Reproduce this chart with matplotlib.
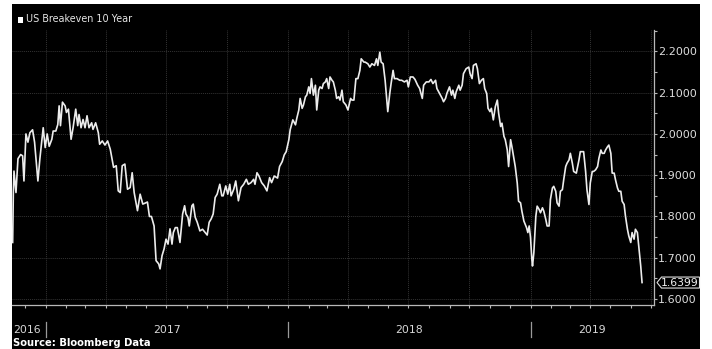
import numpy as np
import matplotlib
matplotlib.use("Agg")
import matplotlib.pyplot as plt
import matplotlib.dates as mdates
import matplotlib.ticker as mticker
import matplotlib.transforms as mtransforms
from matplotlib.patches import Rectangle, Polygon

# US 10y breakeven
# day_offsets: days counted from 2017-01-01
day_offsets = [
    -50, -49, -48, -45, -42, -38, -35, -33, -30, -27, -24, -20, -17, -12, -9, -4, -1,
    2, 5, 9, 11, 15, 18, 20, 22, 25, 29, 31, 34, 38, 41, 45, 48, 50, 53, 56, 59, 62,
    65, 69, 71, 75, 79, 81, 85, 89, 93, 97, 102, 106, 109, 112, 115, 119, 123, 127,
    130, 133, 138, 142, 146, 149,
    153, 156, 159, 163, 166, 170, 172, 175, 178, 181, 184, 187, 190, 192, 195, 198,
    202, 206, 209, 211, 214, 216, 220, 222, 225, 228, 232, 236, 240, 243, 246, 249,
    252, 255, 258, 262, 265, 267, 271, 274, 277, 279, 283, 286, 290, 294, 298, 302,
    305, 309, 313, 315, 318, 321, 325, 329, 333, 337, 340, 344,
    349, 352, 356, 359, 362, 366, 368, 372, 376, 378, 381, 383, 386, 388, 391, 393,
    396, 398, 400, 403, 406, 408, 411, 413, 416, 418, 421, 423, 426, 428, 431, 433,
    436, 438, 441, 443, 446, 448, 452, 455, 459, 461, 464, 467, 470, 473, 475, 479,
    481, 485, 488, 491, 495, 498, 500, 503, 505, 508, 511, 515, 518, 520, 523, 525,
    529, 533, 536, 540,
    544, 546, 549, 553, 556, 560, 563, 567, 569, 573, 577, 580, 583, 587, 589, 593,
    597, 599, 602, 604, 608, 611, 613, 616, 618, 622, 624, 627, 629, 633, 637, 639,
    642, 644, 648, 650, 653, 656, 659, 661, 664, 666, 669, 671, 674, 677, 680, 682,
    685, 687, 690, 692, 695, 697, 700, 702, 705, 707, 710, 712, 715, 717, 720, 724,
    726, 728, 730, 732, 733, 735, 738,
    740, 743, 745, 748, 750, 753, 755, 758, 760, 763, 765, 768, 770, 773, 775, 778,
    780, 783, 785, 788, 790, 793, 795, 799, 803, 805, 808, 810, 813, 815, 818, 820,
    823, 825, 828, 831, 833, 836, 838, 841, 843, 846, 848, 851, 853, 856, 858, 861,
    863, 866, 868, 871, 873, 876, 878, 881, 883, 886, 888, 891, 893, 896, 898,
]
breakeven = [
    1.737, 1.858, 1.910, 1.858, 1.940, 1.950, 1.947, 1.886, 2.000, 1.980, 2.003, 2.010,
    1.980, 1.886, 1.940, 2.015, 1.967,
    2.000, 1.970, 1.987, 2.007, 2.007, 2.023, 2.068, 2.020, 2.077, 2.068, 2.052, 2.060,
    1.987, 2.015, 2.060, 2.020, 2.047, 2.015, 2.035, 2.015, 2.044, 2.015, 2.027, 2.011,
    2.027, 2.003, 1.975, 1.983, 1.973, 1.983, 1.963, 1.919, 1.923, 1.862, 1.858, 1.923,
    1.927, 1.866, 1.870, 1.906, 1.858, 1.814, 1.854, 1.830, 1.832,
    1.835, 1.800, 1.800, 1.777, 1.693, 1.685, 1.673, 1.705, 1.721, 1.745, 1.733, 1.770,
    1.733, 1.761, 1.773, 1.773, 1.737, 1.806, 1.826, 1.806, 1.798, 1.777, 1.826, 1.830,
    1.798, 1.786, 1.765, 1.769, 1.761, 1.755, 1.786, 1.794, 1.806, 1.846, 1.854, 1.878,
    1.850, 1.850, 1.874, 1.854, 1.878, 1.850, 1.866, 1.886, 1.838, 1.870, 1.878, 1.890,
    1.878, 1.882, 1.890, 1.878, 1.906, 1.898, 1.882, 1.874, 1.862, 1.894, 1.882, 1.898,
    1.893, 1.921, 1.933, 1.949, 1.957, 1.986, 2.010, 2.034, 2.022, 2.038, 2.058, 2.086,
    2.062, 2.070, 2.090, 2.094, 2.114, 2.098, 2.134, 2.094, 2.118, 2.058, 2.106, 2.114,
    2.110, 2.122, 2.126, 2.134, 2.110, 2.138, 2.130, 2.126, 2.106, 2.086, 2.090, 2.082,
    2.106, 2.078, 2.070, 2.058, 2.086, 2.082, 2.082, 2.134, 2.134, 2.154, 2.182, 2.174,
    2.174, 2.170, 2.162, 2.170, 2.166, 2.182, 2.166, 2.198, 2.174, 2.170, 2.130, 2.054,
    2.098, 2.122, 2.154, 2.134, 2.134, 2.130, 2.130, 2.126,
    2.130, 2.114, 2.138, 2.138, 2.132, 2.118, 2.110, 2.086, 2.118, 2.126, 2.126, 2.132,
    2.122, 2.130, 2.110, 2.098, 2.086, 2.078, 2.086, 2.098, 2.114, 2.094, 2.106, 2.086,
    2.102, 2.118, 2.106, 2.118, 2.146, 2.158, 2.162, 2.146, 2.134, 2.166, 2.170, 2.158,
    2.122, 2.130, 2.134, 2.110, 2.098, 2.062, 2.054, 2.062, 2.034, 2.066, 2.082, 2.050,
    2.018, 2.026, 1.994, 1.986, 1.961, 1.921, 1.986, 1.969, 1.941, 1.921, 1.881, 1.837,
    1.833, 1.813, 1.789, 1.773, 1.761, 1.777, 1.749, 1.696, 1.680, 1.712, 1.800,
    1.825, 1.817, 1.809, 1.821, 1.813, 1.793, 1.777, 1.777, 1.841, 1.869, 1.873, 1.861,
    1.833, 1.825, 1.861, 1.865, 1.889, 1.921, 1.929, 1.937, 1.953, 1.929, 1.909, 1.905,
    1.937, 1.957, 1.957, 1.957, 1.909, 1.865, 1.829, 1.881, 1.909, 1.909, 1.913, 1.921,
    1.941, 1.961, 1.953, 1.953, 1.961, 1.969, 1.973, 1.953, 1.905, 1.905, 1.889, 1.869,
    1.861, 1.861, 1.837, 1.829, 1.801, 1.769, 1.753, 1.737, 1.761, 1.745, 1.769, 1.761,
    1.729, 1.680, 1.6399,
]
year_labels = ["2016", "2017", "2018", "2019"]
y_ticks = [1.6, 1.7, 1.8, 1.9, 2.0, 2.1, 2.2]
series_name = "US Breakeven 10 Year"
source = "Source: Bloomberg Data"

dates = np.datetime64("2017-01-01") + np.array(day_offsets).astype("timedelta64[D]")
x_start = np.datetime64("2016-11-11")
x_end = np.datetime64("2019-07-06")
year_starts = [np.datetime64(f"{y}-01-01") for y in year_labels[1:]]

W, H = 712, 349
fig = plt.figure(figsize=(W / 100, H / 100), dpi=100, facecolor="white")
fig.add_artist(Rectangle((12 / W, 0), 688 / W, 345 / H, transform=fig.transFigure,
                         facecolor="black", edgecolor="none", zorder=-10))

ax = fig.add_axes([12 / W, 44 / H, 642 / W, 275.5 / H])
ax.set_facecolor("black")
ax.plot(dates, breakeven, color="#ececec", lw=1.2, solid_joinstyle="round")

ax.set_xlim(x_start, x_end)
ax.set_ylim(1.5855, 2.253)

# axes styling
for side in ("top", "left"):
    ax.spines[side].set_visible(False)
for side in ("bottom", "right"):
    ax.spines[side].set_color("#b8b8b8")
    ax.spines[side].set_linewidth(0.9)

ax.yaxis.tick_right()
ax.set_yticks(y_ticks)
ax.yaxis.set_minor_locator(mticker.MultipleLocator(0.05))
ax.yaxis.set_major_formatter(mticker.FormatStrFormatter("%.4f"))
ax.tick_params(axis="y", which="major", colors="#b8b8b8", labelcolor="#dcdcdc",
               length=2.5, width=0.8, pad=0.5, labelsize=8)
ax.tick_params(axis="y", which="minor", colors="#b8b8b8", length=2, width=0.8)

ax.xaxis.set_major_locator(mdates.MonthLocator(bymonth=[1, 4, 7, 10]))
ax.xaxis.set_minor_locator(mdates.MonthLocator())
ax.tick_params(axis="x", which="both", colors="#b8b8b8", length=2, width=0.8,
               labelbottom=False)

ax.grid(True, which="major", color="#333333", linestyle=(0, (1, 1)), linewidth=0.7)

# year labels and separators below the axis
xform = mtransforms.blended_transform_factory(ax.transData, ax.transAxes)
bounds = [x_start] + year_starts + [x_end]
for i, label in enumerate(year_labels):
    a, b = mdates.date2num(bounds[i]), mdates.date2num(bounds[i + 1])
    mid = (a + b) / 2
    if i == 0:
        mid -= 3
    ax.text(mid, -0.092, label, transform=xform, ha="center", va="center",
            color="#d8d8d8", fontsize=7.8)
for ys in year_starts:
    ax.plot([ys, ys], [-0.06, -0.115], transform=xform, color="#9a9a9a",
            lw=0.9, clip_on=False)

# last value tag
last = breakeven[-1]
tag_tr = mtransforms.Affine2D() + mtransforms.ScaledTranslation(1.0, last, ax.get_yaxis_transform())
tag = Polygon([(3, 0), (7.5, 5.5), (45.5, 5.5), (45.5, -5.5), (7.5, -5.5)], closed=True,
              facecolor="black", edgecolor="#e0e0e0", lw=0.8, transform=tag_tr,
              clip_on=False, zorder=5)
ax.add_artist(tag)
ax.annotate(f"{last:.4f}", xy=(1.0, last), xycoords=("axes fraction", "data"),
            xytext=(7, 0), textcoords="offset pixels", ha="left", va="center",
            color="#f0f0f0", fontsize=7.8, zorder=6)

# legend-like title and source
fig.add_artist(Rectangle((17.5 / W, 1 - 22.5 / H), 6 / W, 6 / H, transform=fig.transFigure,
                         facecolor="white", edgecolor="none"))
fig.text(26 / W, 1 - 19.5 / H, series_name, color="#e6e6e6", fontsize=6.9,
         ha="left", va="center")
fig.text(13 / W, 6 / H, source, color="white", fontsize=7.2, fontweight="bold",
         ha="left", va="center")

fig.savefig("out.png", dpi=100, facecolor="white")
